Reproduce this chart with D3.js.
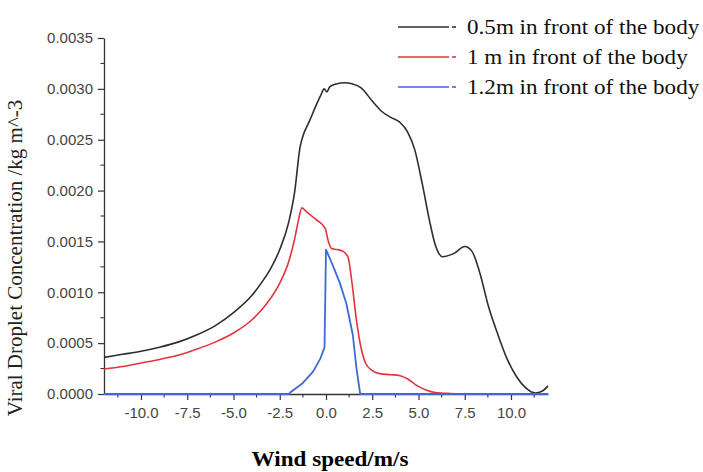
<!DOCTYPE html>
<html>
<head>
<meta charset="utf-8">
<script src="https://cdn.jsdelivr.net/npm/d3@7"></script>
<style>
  html, body { margin: 0; padding: 0; background: #fff; }
  svg { display: block; }
</style>
</head>
<body>
<svg id="chart" width="703" height="472"></svg>
<script>
// ---------- data ----------
const seriesNames = ["0.5m in front of the body", "1 m in front of the body", "1.2m in front of the body"];
const seriesColors = ["#2e2e2e", "#e2343f", "#3d6bd3"];

const wind05 = [-12, -11, -10, -9, -8, -7, -6, -5, -4, -3.5, -3, -2.5, -2, -1.7, -1.4, -1.2, -0.9, -0.6, -0.3, -0.1, 0.05, 0.2, 0.6, 1.0, 1.4, 1.9, 2.5, 3.0, 3.5, 4.0, 4.4, 4.8, 5.2, 5.6, 5.9, 6.3, 6.9, 7.5, 7.9, 8.3, 8.8, 9.3, 9.8, 10.3, 10.8, 11.3, 11.7, 12];
const conc05 = [0.00036, 0.00039, 0.00042, 0.00046, 0.00051, 0.00058, 0.00067, 0.00080, 0.00097, 0.00109, 0.00123, 0.00142, 0.00170, 0.00198, 0.00243, 0.00256, 0.00268, 0.00281, 0.00293, 0.00300, 0.00297, 0.00302, 0.00305, 0.00306, 0.00305, 0.00301, 0.00288, 0.00278, 0.00272, 0.00267, 0.00258, 0.00240, 0.00207, 0.00170, 0.00147, 0.00135, 0.00138, 0.00145, 0.00140, 0.00120, 0.00085, 0.00058, 0.00034, 0.00017, 0.00006, 0.00001, 0.00003, 0.00008];

const wind1 = [-12, -11, -10, -9, -8, -7, -6, -5, -4, -3.2, -2.5, -2.0, -1.7, -1.5, -1.3, -1.05, -0.5, -0.05, 0.13, 0.3, 0.6, 0.95, 1.2, 1.4, 1.65, 1.9, 2.15, 2.5, 2.9, 3.5, 4.0, 4.4, 4.85, 5.4, 5.9, 6.7, 8, 12];
const conc1 = [0.000245, 0.00027, 0.000305, 0.00034, 0.00038, 0.00044, 0.00051, 0.00060, 0.00073, 0.00089, 0.00109, 0.00131, 0.00152, 0.00170, 0.00183, 0.00179, 0.00171, 0.00163, 0.00150, 0.00143, 0.00142, 0.00140, 0.00134, 0.00110, 0.00072, 0.00045, 0.00030, 0.00023, 0.00020, 0.00019, 0.00018, 0.00015, 0.00009, 0.00004, 0.000015, 0.000005, 0, 0];

const wind12 = [-12, -2.0, -1.9, -1.3, -0.7, -0.3, -0.08, 0.0, 0.4, 0.75, 1.1, 1.45, 1.65, 1.85, 12];
const conc12 = [0, 0, 0.00002, 0.0001, 0.00022, 0.00035, 0.00046, 0.00142, 0.00125, 0.00109, 0.00089, 0.00058, 0.00025, 0, 0];

const xTickValues = [-10, -7.5, -5, -2.5, 0, 2.5, 5, 7.5, 10];
const yTickValues = [0, 0.0005, 0.001, 0.0015, 0.002, 0.0025, 0.003, 0.0035];

const xTitle = "Wind speed/m/s";
const yTitle = "Viral Droplet Concentration /kg m^-3";

// ---------- drawing ----------
const svg = d3.select("#chart");
const m = { left: 104, right: 548, top: 38, bottom: 394 };

const x = d3.scaleLinear().domain([-12, 12]).range([m.left, m.right]);
const y = d3.scaleLinear().domain([0, 0.0035]).range([m.bottom, m.top]);

const tickFont = "'Liberation Sans', Arial, sans-serif";
const serif = "'Liberation Serif', 'Times New Roman', serif";
const fmtX = v => d3.format(".1f")(v).replace("\u2212", "-");
const fmtY = v => d3.format(".4f")(v);

// minor ticks
const xMinor = d3.range(-11.25, 11.26, 1.25).filter(v => !xTickValues.some(t => Math.abs(t - v) < 1e-9));
const yMinor = d3.range(0.00025, 0.0035, 0.0005);

const xAxis = d3.axisBottom(x).tickValues(xTickValues).tickFormat(fmtX).tickSize(6).tickSizeOuter(0).tickPadding(7);
const gx = svg.append("g").attr("transform", `translate(0,${m.bottom})`).call(xAxis);
gx.select(".domain").attr("stroke", "#333").attr("stroke-width", 1.3);
gx.selectAll(".tick line").attr("stroke", "#333").attr("stroke-width", 1.2);
gx.selectAll(".tick text").attr("font-family", tickFont).attr("font-size", 15).attr("fill", "#444");
gx.selectAll(".minor").data(xMinor).enter().append("line")
  .attr("x1", d => x(d)).attr("x2", d => x(d)).attr("y1", 0).attr("y2", 3.5)
  .attr("stroke", "#333").attr("stroke-width", 1.1);

const yAxis = d3.axisLeft(y).tickValues(yTickValues).tickFormat(fmtY).tickSize(6).tickSizeOuter(0).tickPadding(5);
const gy = svg.append("g").attr("transform", `translate(${m.left},0)`).call(yAxis);
gy.select(".domain").attr("stroke", "#333").attr("stroke-width", 1.3);
gy.selectAll(".tick line").attr("stroke", "#333").attr("stroke-width", 1.2);
gy.selectAll(".tick text").attr("font-family", tickFont).attr("font-size", 15).attr("fill", "#444");
gy.selectAll(".minor").data(yMinor).enter().append("line")
  .attr("x1", 0).attr("x2", -3.5).attr("y1", d => y(d)).attr("y2", d => y(d))
  .attr("stroke", "#333").attr("stroke-width", 1.1);

// curves
const series = [
  { xs: wind05, ys: conc05, curve: d3.curveMonotoneX },
  { xs: wind1, ys: conc1, curve: d3.curveMonotoneX },
  { xs: wind12, ys: conc12, curve: d3.curveLinear }
];
series.forEach((s, i) => {
  const pts = s.xs.map((v, k) => [v, s.ys[k]]);
  const line = d3.line().x(d => x(d[0])).y(d => y(d[1])).curve(s.curve);
  svg.append("path").attr("d", line(pts)).attr("fill", "none")
    .attr("stroke", seriesColors[i]).attr("stroke-width", i === 2 ? 1.8 : 1.6)
    .attr("stroke-linejoin", "round");
});

// legend
const legY = [27, 57, 87];
seriesNames.forEach((name, i) => {
  const g = svg.append("g").attr("transform", `translate(0,${legY[i]})`);
  g.append("line").attr("x1", 398).attr("x2", 449).attr("y1", 0).attr("y2", 0)
    .attr("stroke", seriesColors[i]).attr("stroke-width", 1.6);
  g.append("line").attr("x1", 452).attr("x2", 456).attr("y1", 0).attr("y2", 0)
    .attr("stroke", seriesColors[i]).attr("stroke-width", 1.6);
  const t = g.append("text").attr("x", 467).attr("y", 7).text(name)
    .attr("font-family", serif).attr("font-size", 21).attr("fill", "#111");
  const w = t.node().getComputedTextLength();
  t.attr("textLength", w * 1.1).attr("lengthAdjust", "spacingAndGlyphs");
});

// axis titles
const xt = svg.append("text").attr("x", 330).attr("y", 466).attr("text-anchor", "middle")
  .attr("font-family", serif).attr("font-weight", "bold").attr("font-size", 21).attr("fill", "#000")
  .text(xTitle);
xt.attr("textLength", xt.node().getComputedTextLength() * 1.1).attr("lengthAdjust", "spacingAndGlyphs");
svg.append("text").attr("transform", `translate(22,${258}) rotate(-90)`)
  .attr("text-anchor", "middle").attr("font-family", serif).attr("font-size", 21).attr("fill", "#222")
  .text(yTitle);
</script>
</body>
</html>
